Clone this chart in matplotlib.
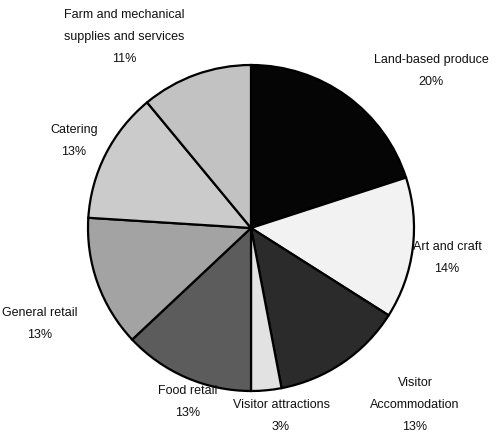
import matplotlib.pyplot as plt

plt.rcParams['font.family'] = ['Liberation Sans', 'DejaVu Sans']

categories = ['Land-based produce', 'Art and craft', 'Visitor\nAccommodation',
              'Visitor attractions', 'Food retail', 'General retail', 'Catering',
              'Farm and mechanical\nsupplies and services']
shares = [20, 14, 13, 3, 13, 13, 13, 11]
colors = ['#050505', '#f2f2f2', '#2b2b2b', '#e2e2e2', '#5c5c5c', '#a3a3a3',
          '#cbcbcb', '#c2c2c2']

# label centres in pixels of the 498x432 picture
label_px = [(431, 71), (447, 258), (415, 405), (281, 416), (188, 402),
            (40, 324), (74, 141), (124, 37)]

fig = plt.figure(figsize=(4.98, 4.32), dpi=100)
cx, cy, r = 251, 228, 163
ax = fig.add_axes([(cx - r) / 498, (432 - cy - r) / 432, 2 * r / 498, 2 * r / 432])
ax.pie(shares, colors=colors, startangle=90, counterclock=False,
       wedgeprops=dict(edgecolor='black', linewidth=1.6))
ax.set_xlim(-1, 1)
ax.set_ylim(-1, 1)
ax.set_aspect('auto')

for name, val, (px, py) in zip(categories, shares, label_px):
    fig.text(px / 498, 1 - py / 432, f'{name}\n{val}%', ha='center', va='center',
             fontsize=9, linespacing=2.15, color='#111111')

fig.savefig('out.png', dpi=100)
